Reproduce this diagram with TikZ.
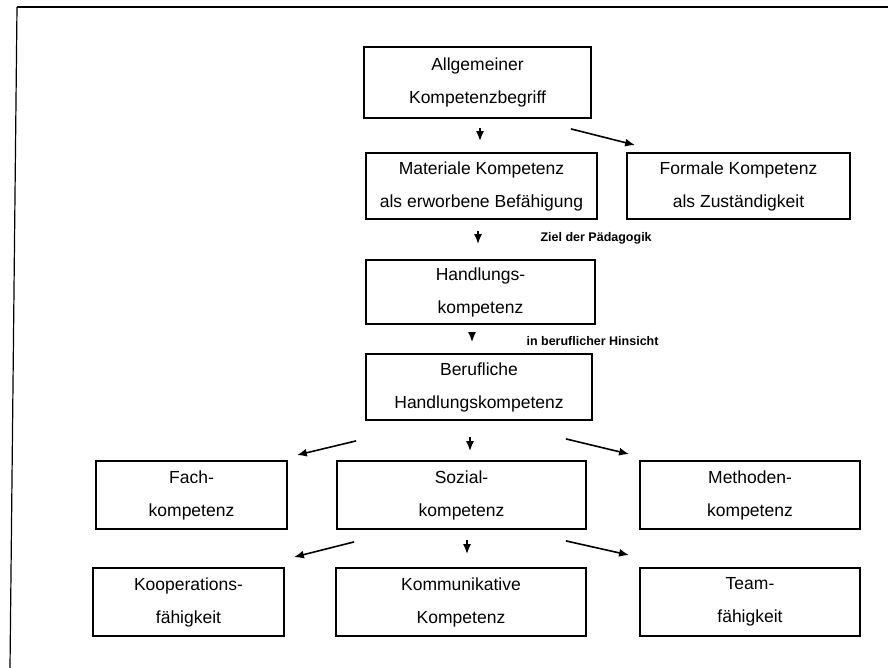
\documentclass[tikz,border=0pt]{standalone}
\usepackage{fontspec}
\setmainfont{Liberation Sans}
\usepackage{tikz}
\usetikzlibrary{arrows.meta,positioning,calc}

\tikzset{
  kbox/.style={draw,line width=1.8pt,align=center,inner sep=0pt,
    font=\fontsize{17.5}{33}\selectfont},
  karr/.style={-{Latex[length=10pt,width=8pt]},line width=1.6pt},
  knote/.style={font=\fontsize{12.5}{14}\selectfont\bfseries,anchor=west}
}

\begin{document}
\begin{tikzpicture}[x=1pt,y=-1pt]
  \useasboundingbox (0,0) rectangle (888,668);
  % Frame (top and left edge only)
  \draw[line width=1.8pt] (888,7) -- (17,7);
  \draw[line width=1.2pt] (17,7) -- (10,668);
  % Top part
  \node[kbox,minimum width=227pt,minimum height=71pt] (allg) at (477.5,82.5) {Allgemeiner\\Kompetenzbegriff};
  \node[kbox,minimum width=231pt,minimum height=66pt] (mat) at (481.5,186) {Materiale Kompetenz\\als erworbene Befähigung};
  \node[kbox,minimum width=223pt,minimum height=66pt] (form) at (738.5,186) {Formale Kompetenz\\als Zuständigkeit};
  \node[kbox,minimum width=229pt,minimum height=64pt] (handl) at (480.5,292) {Handlungs-\\kompetenz};
  \node[kbox,minimum width=226pt,minimum height=66pt] (beruf) at (479,387) {Berufliche\\Handlungskompetenz};
  % Middle row
  \node[kbox,minimum width=191pt,minimum height=68pt] (fach) at (191.5,495) {Fach-\\kompetenz};
  \node[kbox,minimum width=249pt,minimum height=68pt] (sozial) at (461.5,495) {Sozial-\\kompetenz};
  \node[kbox,minimum width=220pt,minimum height=68pt] (meth) at (750,495) {Methoden-\\kompetenz};
  % Bottom row
  \node[kbox,minimum width=191pt,minimum height=68pt] (koop) at (188.5,602) {Kooperations-\\fähigkeit};
  \node[kbox,minimum width=250pt,minimum height=68pt] (komm) at (461,602) {Kommunikative\\Kompetenz};
  \node[kbox,minimum width=220pt,minimum height=68pt] (team) at (750,602) {Team-\\fähigkeit};
  % Side notes
  \node[knote] (ziel) at (537,238) {Ziel der Pädagogik};
  \node[knote] (hins) at (523,341) {in beruflicher Hinsicht};
  % Arrows
  \draw[karr,shorten <=9pt,shorten >=11pt] ([xshift=2.5pt]allg.south) -- ([xshift=-1.5pt]mat.north);
  \draw[karr] ($(allg.south east)+(-21,10)$) -- ($(form.north west)+(9,-7)$);
  \draw[karr,shorten <=11pt,shorten >=15pt] ([xshift=-3.5pt]mat.south) -- ([xshift=-2.5pt]handl.north);
  \draw[karr,shorten <=10pt,shorten >=11pt] ([xshift=-8.5pt]handl.south) -- ([xshift=-7pt]beruf.north);
  \draw[karr] ($(beruf.south west)+(-9,20)$) -- ($(fach.north east)+(9,-5)$);
  \draw[karr,shorten <=16pt,shorten >=9pt] ([xshift=-9pt]beruf.south) -- ([xshift=8.5pt]sozial.north);
  \draw[karr] ($(beruf.south east)+(-27,18)$) -- ($(meth.north west)+(-10,-6)$);
  \draw[karr] ($(sozial.south west)+(18,12)$) -- ($(koop.north east)+(9,-10)$);
  \draw[karr,shorten <=10pt,shorten >=13pt] ([xshift=5.5pt]sozial.south) -- ([xshift=6pt]komm.north);
  \draw[karr] ($(sozial.south east)+(-21,11)$) -- ($(team.north west)+(-10,-12)$);
\end{tikzpicture}
\end{document}
